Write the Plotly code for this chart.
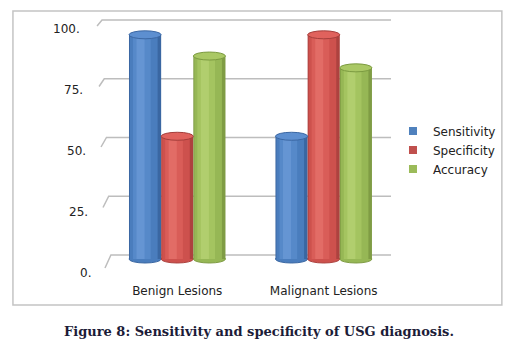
import plotly.graph_objects as go

# ---------------- data ----------------
categories = ["Benign Lesions", "Malignant Lesions"]
series_names = ["Sensitivity", "Specificity", "Accuracy"]
sensitivity = [95, 52]
specificity = [52, 95]
accuracy = [86, 81]
tick_vals = [0, 25, 50, 75, 100]
tick_text = ["0.", "25.", "50.", "75.", "100."]
caption = "Figure 8: Sensitivity and specificity of USG diagnosis."

series_values = [sensitivity, specificity, accuracy]

# ---------------- styling / geometry ----------------
OFF = 8                      # page body margin
W, H = 505, 334              # figure size
PL, PR, PT, PB = 104, 395, 20, 270  # plot area in page pixels


def pxx(px):
    return (px - PL) / (PR - PL)


def pxy(py):
    return (PB - py) / (PB - PT)


# bar (middle depth) scale: 0 -> 259px, 100 -> 23px
k1 = (259 - 23) / 100
y1min = -(PB - 259) / k1
y1max = y1min + (PB - PT) / k1
# x scale: category spacing 148 px
xmin = -0.5
xmax = xmin + (PR - PL) / 148
bw = 32.5 / 148  # bar width in x units
eh = 8 / k1      # ellipse height in y units

palettes = [
    # edge, mid, light, highlight, top fill, top line
    ["#3a67a2", "#4a7dbd", "#5689c9", "#6595d3", "#5d8fd0", "#3b67a3"],
    ["#ad423f", "#cd514d", "#d95d58", "#e26c66", "#e0625d", "#a43e3b"],
    ["#7f9c44", "#96b755", "#a4c460", "#b1ce6e", "#aac865", "#7b9a40"],
]
legend_colors = ["#4f81bd", "#c0504d", "#9bbb59"]
layers = [(1.0, 0.0), (0.86, -0.04), (0.55, -0.10), (0.25, -0.14)]

fig = go.Figure()
shapes = []

# chart border
shapes.append(dict(type="rect", xref="paper", yref="paper",
                   x0=pxx(12), x1=pxx(506), y0=pxy(305), y1=pxy(11),
                   line=dict(color="#c4c4c4", width=1.5), fillcolor="rgba(0,0,0,0)",
                   layer="below"))

# 3D-style gridlines (back wall with slanted floor edges)
for v in tick_vals:
    by = 255 - v * 2.35
    fy = 268 - v * 2.42
    bx = 111 - 0.09 * v
    fx = 105 - 0.08 * v
    path = "M {:.5f},{:.5f} L {:.5f},{:.5f} L {:.5f},{:.5f}".format(
        pxx(fx), pxy(fy), pxx(bx), pxy(by), pxx(394), pxy(by))
    shapes.append(dict(type="path", xref="paper", yref="paper", path=path,
                       line=dict(color="#bdbdbd", width=1.5), layer="below"))

xpos = list(range(len(categories)))

for si, (name, vals) in enumerate(zip(series_names, series_values)):
    pal = palettes[si]
    center_off = (si - 1) * bw
    # bottom ellipses
    for xi, v in zip(xpos, vals):
        shapes.append(dict(type="circle", xref="x", yref="y",
                           x0=xi + center_off - bw / 2, x1=xi + center_off + bw / 2,
                           y0=-eh / 2, y1=eh / 2,
                           fillcolor=pal[1], line=dict(color=pal[0], width=1),
                           layer="below"))
    # cylinder body shading layers
    for li, (frac, shift) in enumerate(layers):
        wdt = bw * frac
        off = center_off - wdt / 2 + shift * bw
        fig.add_trace(go.Bar(x=xpos, y=vals, width=wdt, offset=off,
                             marker=dict(color=pal[li], line=dict(width=0)),
                             showlegend=False, hoverinfo="skip"))
    # top ellipses
    for xi, v in zip(xpos, vals):
        shapes.append(dict(type="circle", xref="x", yref="y",
                           x0=xi + center_off - bw / 2, x1=xi + center_off + bw / 2,
                           y0=v - eh / 2, y1=v + eh / 2,
                           fillcolor=pal[4], line=dict(color=pal[5], width=1),
                           layer="above"))
    # legend entry
    fig.add_trace(go.Scatter(x=[None], y=[None], mode="markers", name=name,
                             marker=dict(symbol="square", size=8, color=legend_colors[si])))

annotations = []
for v, t in zip(tick_vals, tick_text):
    annotations.append(dict(xref="paper", yref="paper",
                            x=pxx(93 - 0.11 * v), y=pxy(273 - v * 2.44),
                            text=t, showarrow=False, xanchor="right", yanchor="middle",
                            font=dict(family="DejaVu Sans", size=12, color="#222222")))
annotations.append(dict(xref="paper", yref="paper", x=pxx(62), y=pxy(331),
                        text="<b>" + caption + "</b>", showarrow=False,
                        xanchor="left", yanchor="middle",
                        font=dict(family="DejaVu Serif", size=13, color="#1c1c38")))

fig.update_layout(
    width=W, height=H,
    margin=dict(l=PL - OFF, r=W - (PR - OFF), t=PT - OFF, b=H - (PB - OFF), pad=0),
    paper_bgcolor="white", plot_bgcolor="rgba(0,0,0,0)",
    barmode="overlay",
    showlegend=True,
    legend=dict(x=pxx(396), y=pxy(150), xanchor="left", yanchor="middle",
                font=dict(family="DejaVu Sans", size=12, color="#222222"),
                bgcolor="rgba(0,0,0,0)", tracegroupgap=0, itemwidth=30),
    xaxis=dict(range=[xmin, xmax], tickvals=xpos, ticktext=categories,
               showgrid=False, zeroline=False, showline=False, ticks="",
               tickfont=dict(family="DejaVu Sans", size=12, color="#222222"),
               ticklabelstandoff=12),
    yaxis=dict(range=[y1min, y1max], showgrid=False, zeroline=False,
               showline=False, showticklabels=False, ticks=""),
    shapes=shapes,
    annotations=annotations,
)

fig.write_html("out.html")
